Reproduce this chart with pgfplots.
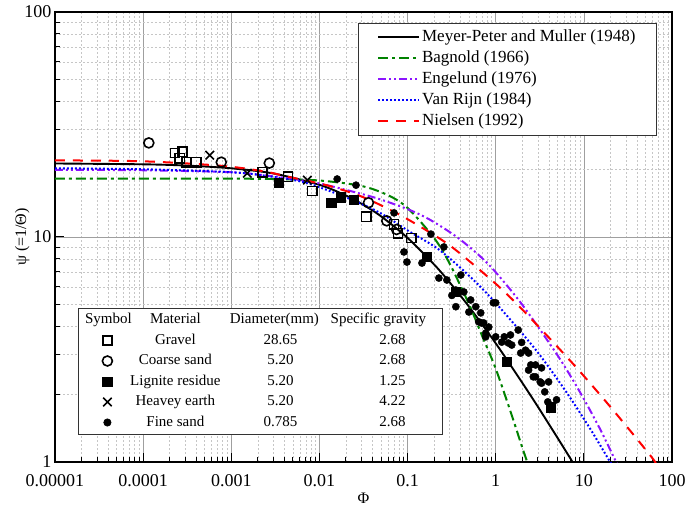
\documentclass[border=0pt]{standalone}
\usepackage{fontspec}
\setmainfont{Liberation Serif}
\usepackage{pgfplots}
\pgfplotsset{compat=1.18}
\definecolor{bgreen}{RGB}{0,130,0}
\definecolor{eviolet}{RGB}{140,20,255}
\definecolor{vblue}{RGB}{0,0,255}
\definecolor{nred}{RGB}{255,0,0}
\begin{document}
\begin{tikzpicture}
\useasboundingbox (0,0) rectangle (685pt,506pt);
\begin{axis}[
  at={(55pt,44pt)}, anchor=south west,
  width=617pt, height=450pt, scale only axis,
  xmode=log, ymode=log,
  xmin=1e-5, xmax=100, ymin=1, ymax=100,
  xtick={1e-5,1e-4,1e-3,1e-2,1e-1,1,10,100},
  xticklabels={0.00001,0.0001,0.001,0.01,0.1,1,10,100},
  ytick={1,10,100}, yticklabels={1,10,100},
  tick pos=left, tick align=inside,
  major tick length=9pt, minor tick length=5pt,
  every tick/.style={black,line width=1pt},
  grid=both,
  major grid style={draw=gray!75,line width=0.6pt},
  minor grid style={draw=gray!45,line width=0.5pt,dash pattern=on 2pt off 2pt},
  axis line style={line width=1.6pt},
  tick label style={font=\fontsize{18}{18}\selectfont},
  xticklabel style={yshift=-9pt},
  xlabel={Φ}, ylabel={ψ (=1/Θ)},
  label style={font=\fontsize{16}{16}\selectfont},
  xlabel style={at={(axis description cs:0.5,-0.081)},anchor=center},
  ylabel style={at={(axis description cs:-0.053,0.5)},anchor=center},
  legend cell align=left,
  legend style={at={(0.9757,0.9756)},anchor=north east,
    font=\fontsize{17}{17}\selectfont, draw=black!80, line width=0.8pt,
    inner xsep=19pt, inner ysep=4pt,
    nodes={inner sep=2pt,text height=12pt,text depth=4pt}, row sep=1pt},
  legend image code/.code={\draw[#1] (0pt,0pt) -- (41pt,0pt);},
]
\addplot[black,line width=1.9pt,smooth] coordinates {
(1e-5,21.22)(1e-4,21.04)(3e-4,20.78)(1e-3,20.20)(0.003,19.16)(0.01,17.06)(0.02,15.29)(0.03,14.06)(0.05,12.36)(0.1,9.91)(0.2,7.55)(0.3,6.29)(0.5,4.89)(1,3.37)(2,2.25)(3,1.764)(5,1.285)(7,1.04)(7.5,0.995)};
\addlegendentry{Meyer-Peter and Muller (1948)}
\addplot[bgreen,line width=2pt,smooth,dash pattern=on 10pt off 4pt on 3pt off 4pt] coordinates {
(1e-5,18.18)(1e-3,18.16)(0.003,18.10)(0.01,17.83)(0.03,16.86)(0.06,15.34)(0.1,13.46)(0.2,9.90)(0.3,7.62)(0.5,5.01)(0.7,3.64)(1,2.60)(1.5,1.64)(2,1.16)(2.3,0.99)};
\addlegendentry{Bagnold (1966)}
\addplot[eviolet,line width=2pt,smooth,dash pattern=on 8pt off 3pt on 2pt off 3pt on 2pt off 3pt] coordinates {
(1e-5,19.9)(1e-4,19.8)(1e-3,19.4)(0.003,18.6)(0.006,17.9)(0.01,17.3)(0.02,16.2)(0.044,14.9)(0.1,13.3)(0.175,12.0)(0.35,10.1)(0.65,8.28)(1,6.97)(2,5.0)(5,2.99)(9,2.05)(15,1.42)(22,1.045)(24,0.98)};
\addlegendentry{Engelund (1976)}
\addplot[vblue,line width=2pt,smooth,dash pattern=on 1.8pt off 2.2pt] coordinates {
(1e-5,20.2)(1e-4,20.0)(1e-3,19.4)(0.003,18.5)(0.0071,17.4)(0.02,15.0)(0.047,12.9)(0.104,10.6)(0.226,8.8)(0.5,6.72)(1,5.09)(2.83,3.16)(6.2,2.07)(12,1.39)(19,1.03)(21,0.97)};
\addlegendentry{Van Rijn (1984)}
\addplot[nred,line width=2pt,smooth,dash pattern=on 10pt off 8pt] coordinates {
(1e-5,21.9)(1e-4,21.7)(8e-4,20.7)(0.0027,19.4)(0.0042,18.6)(0.012,17.0)(0.0305,15.1)(0.08,12.6)(0.2,10.2)(0.35,8.77)(1,6.2)(2.18,4.6)(7.24,2.78)(17.5,1.87)(35,1.35)(60,1.04)(66,0.98)};
\addlegendentry{Nielsen (1992)}
\end{axis}
\begin{axis}[
  at={(55pt,44pt)}, anchor=south west,
  width=617pt, height=450pt, scale only axis,
  xmode=log, ymode=log,
  xmin=1e-5, xmax=100, ymin=1, ymax=100,
  hide axis,
  legend cell align=left,
  legend style={at={(0.0373,0.342)},anchor=north west,
    font=\fontsize{15}{15}\selectfont, draw=black!80, line width=0.8pt,
    inner xsep=3pt, inner ysep=2pt,
    nodes={inner sep=2pt,text height=11pt,text depth=4pt}, row sep=1.5pt},
  legend image code/.code={\path[draw=none,fill=none] (0pt,-5pt) rectangle (42pt,5pt); \draw[#1] plot coordinates {(26pt,0pt)};},
]
\addlegendimage{empty legend}
\addlegendentry{\llap{\makebox[34pt][c]{Symbol}}\makebox[100pt][c]{Material}\makebox[98pt][c]{Diameter(mm)}\makebox[110pt][c]{Specific gravity}}
\addplot[only marks,mark=square,mark size=4.6pt,mark options={black,line width=1.6pt,fill=none}] coordinates {
(2.3e-4,23.6)(2.8e-4,23.9)(2.6e-4,22.4)(3.1e-4,21.5)(4.0e-4,21.5)(0.00225,19.4)(0.0044,18.5)(0.0083,16.0)(0.034,12.3)(0.070,11.4)(0.078,10.4)(0.11,9.9)};
\addlegendentry{\makebox[100pt][c]{Gravel}\makebox[110pt][c]{28.65}\hspace{12pt}\makebox[90pt][c]{2.68}}
\addplot[only marks,mark=o,mark size=5pt,mark options={black,line width=1.6pt,fill=none}] coordinates {
(1.16e-4,26.2)(7.7e-4,21.5)(0.0027,21.3)(0.036,14.2)(0.058,11.8)(0.075,10.8)};
\addlegendentry{\makebox[100pt][c]{Coarse sand}\makebox[110pt][c]{5.20}\hspace{12pt}\makebox[90pt][c]{2.68}}
\addplot[only marks,mark=square*,mark size=4.6pt,mark options={black,line width=0.8pt}] coordinates {
(0.0035,17.4)(0.0137,14.2)(0.0177,15.0)(0.0246,14.6)(0.166,8.15)(0.353,5.7)(1.33,2.78)(4.2,1.75)};
\addlegendentry{\makebox[100pt][c]{Lignite residue}\makebox[110pt][c]{5.20}\hspace{12pt}\makebox[90pt][c]{1.25}}
\addplot[only marks,mark=x,mark size=6pt,mark options={black,line width=1.6pt}] coordinates {
(5.7e-4,23.1)(0.00152,19.2)(0.0073,17.9)};
\addlegendentry{\makebox[100pt][c]{Heavey earth}\makebox[110pt][c]{5.20}\hspace{12pt}\makebox[90pt][c]{4.22}}
\addplot[only marks,mark=*,mark size=3.6pt,mark options={black}] coordinates {
(0.0159,18.1)(0.026,17.0)(0.0702,12.8)(0.091,8.58)(0.0984,7.74)(0.1456,7.66)(0.184,10.3)(0.258,9.03)(0.2265,6.57)(0.279,6.44)(0.353,5.81)(0.402,6.78)(0.318,5.5)(0.353,4.9)(0.435,5.7)(0.496,4.64)(0.52,5.25)(0.594,4.9)(0.676,4.6)(0.69,4.15)(0.73,4.15)(0.834,3.98)(0.64,4.2)(0.77,3.6)(0.77,3.74)(0.94,5.1)(1.0,5.1)(1.0,3.6)(1.17,3.41)(1.25,3.6)(1.39,3.38)(1.47,3.67)(1.52,3.31)(1.8,3.86)(1.92,3.05)(1.97,3.4)(2.18,3.14)(2.36,3.05)(2.36,2.56)(2.5,2.7)(2.67,2.39)(2.83,2.7)(2.83,2.39)(3.2,2.27)(3.31,2.62)(3.31,2.24)(3.6,2.05)(3.98,2.27)(4.9,1.89)(3.9,1.85)};
\addlegendentry{\makebox[100pt][c]{Fine sand}\makebox[110pt][c]{0.785}\hspace{12pt}\makebox[90pt][c]{2.68}}
\end{axis}
\end{tikzpicture}
\end{document}
